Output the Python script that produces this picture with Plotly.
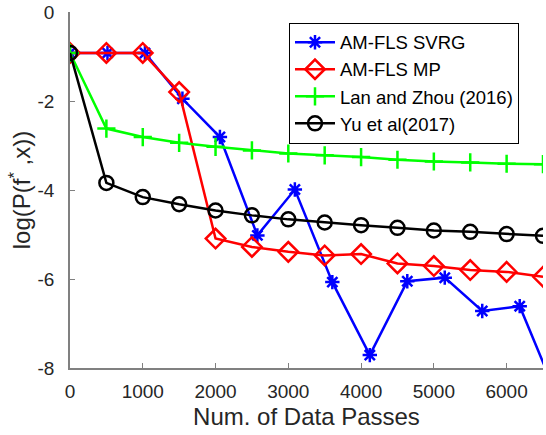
import plotly.graph_objects as go

x_svrg = [0, 515, 1030, 1545, 2060, 2575, 3090, 3605, 4120, 4635, 5150, 5665, 6180, 6695]
y_svrg = [-0.92, -0.92, -0.92, -1.95, -2.81, -5.02, -3.99, -6.07, -7.71, -6.05, -5.97, -6.72, -6.61, -8.64]

x_std = [0, 500, 1000, 1500, 2000, 2500, 3000, 3500, 4000, 4500, 5000, 5500, 6000, 6500]
y_mp = [-0.92, -0.92, -0.92, -1.80, -5.09, -5.28, -5.39, -5.47, -5.44, -5.65, -5.71, -5.80, -5.84, -5.95]
y_lan = [-0.92, -2.62, -2.81, -2.94, -3.03, -3.11, -3.18, -3.22, -3.26, -3.32, -3.36, -3.38, -3.41, -3.42]
y_yu = [-0.92, -3.84, -4.16, -4.32, -4.46, -4.57, -4.66, -4.73, -4.79, -4.85, -4.91, -4.94, -4.99, -5.03]

names = ["AM-FLS SVRG", "AM-FLS MP", "Lan and Zhou (2016)", "Yu et al(2017)"]
x_ticks = [0, 1000, 2000, 3000, 4000, 5000, 6000]
x_ticktext = ["0", "1000", "2000", "3000", "4000", "5000", "6000"]
y_ticks = [0, -2, -4, -6, -8]
y_ticktext = ["0", "-2", "-4", "-6", "-8"]

FONT = "Liberation Sans, Arial, sans-serif"

fig = go.Figure()
fig.add_trace(go.Scatter(x=x_svrg, y=y_svrg, name=names[0], mode="lines+markers",
                         line=dict(color="#0000ff", width=2.5),
                         marker=dict(symbol="asterisk-open", size=12, color="#0000ff",
                                     line=dict(color="#0000ff", width=2.5))))
fig.add_trace(go.Scatter(x=x_std, y=y_mp, name=names[1], mode="lines+markers",
                         line=dict(color="#ff0000", width=2.5),
                         marker=dict(symbol="diamond-open", size=15, color="#ff0000",
                                     line=dict(color="#ff0000", width=2.5))))
fig.add_trace(go.Scatter(x=x_std, y=y_lan, name=names[2], mode="lines+markers",
                         line=dict(color="#00ff00", width=2.5),
                         marker=dict(symbol="cross-thin-open", size=13, color="#00ff00",
                                     line=dict(color="#00ff00", width=2.5))))
fig.add_trace(go.Scatter(x=x_std, y=y_yu, name=names[3], mode="lines+markers",
                         line=dict(color="#000000", width=2.5),
                         marker=dict(symbol="circle-open", size=14, color="#000000",
                                     line=dict(color="#000000", width=2.5))))

axis_common = dict(showline=True, linecolor="#808080", linewidth=1.5, ticks="inside",
                   ticklen=5, tickcolor="#808080", showgrid=False, zeroline=False,
                   tickfont=dict(family=FONT, size=19, color="#262626"),
                   mirror=False, automargin=False)

fig.update_layout(
    width=546, height=435,
    margin=dict(l=70, r=3, t=12, b=67),
    plot_bgcolor="white", paper_bgcolor="white",
    font=dict(family=FONT, color="#262626"),
    xaxis=dict(range=[0, 6500], tickmode="array", tickvals=x_ticks, ticktext=x_ticktext,
               ticklabelstandoff=5,
               title=dict(text="Num. of Data Passes", font=dict(family=FONT, size=24, color="#262626"), standoff=8),
               **axis_common),
    yaxis=dict(range=[-8, 0], tickmode="array", tickvals=y_ticks, ticktext=y_ticktext,
               ticklabelstandoff=10,
               title=dict(text="log(P(f<sup>*</sup> ,x))", font=dict(family=FONT, size=24, color="#262626"), standoff=0),
               **axis_common),
    legend=dict(x=0.463, y=0.97, xanchor="left", yanchor="top",
                bordercolor="#000000", borderwidth=1, bgcolor="white",
                font=dict(size=18.5, color="#000000", family=FONT),
                tracegroupgap=0, itemwidth=40),
    showlegend=True,
)

fig.write_html("out.html", config={"displayModeBar": False},
               post_script="document.body.style.margin='0px';")
